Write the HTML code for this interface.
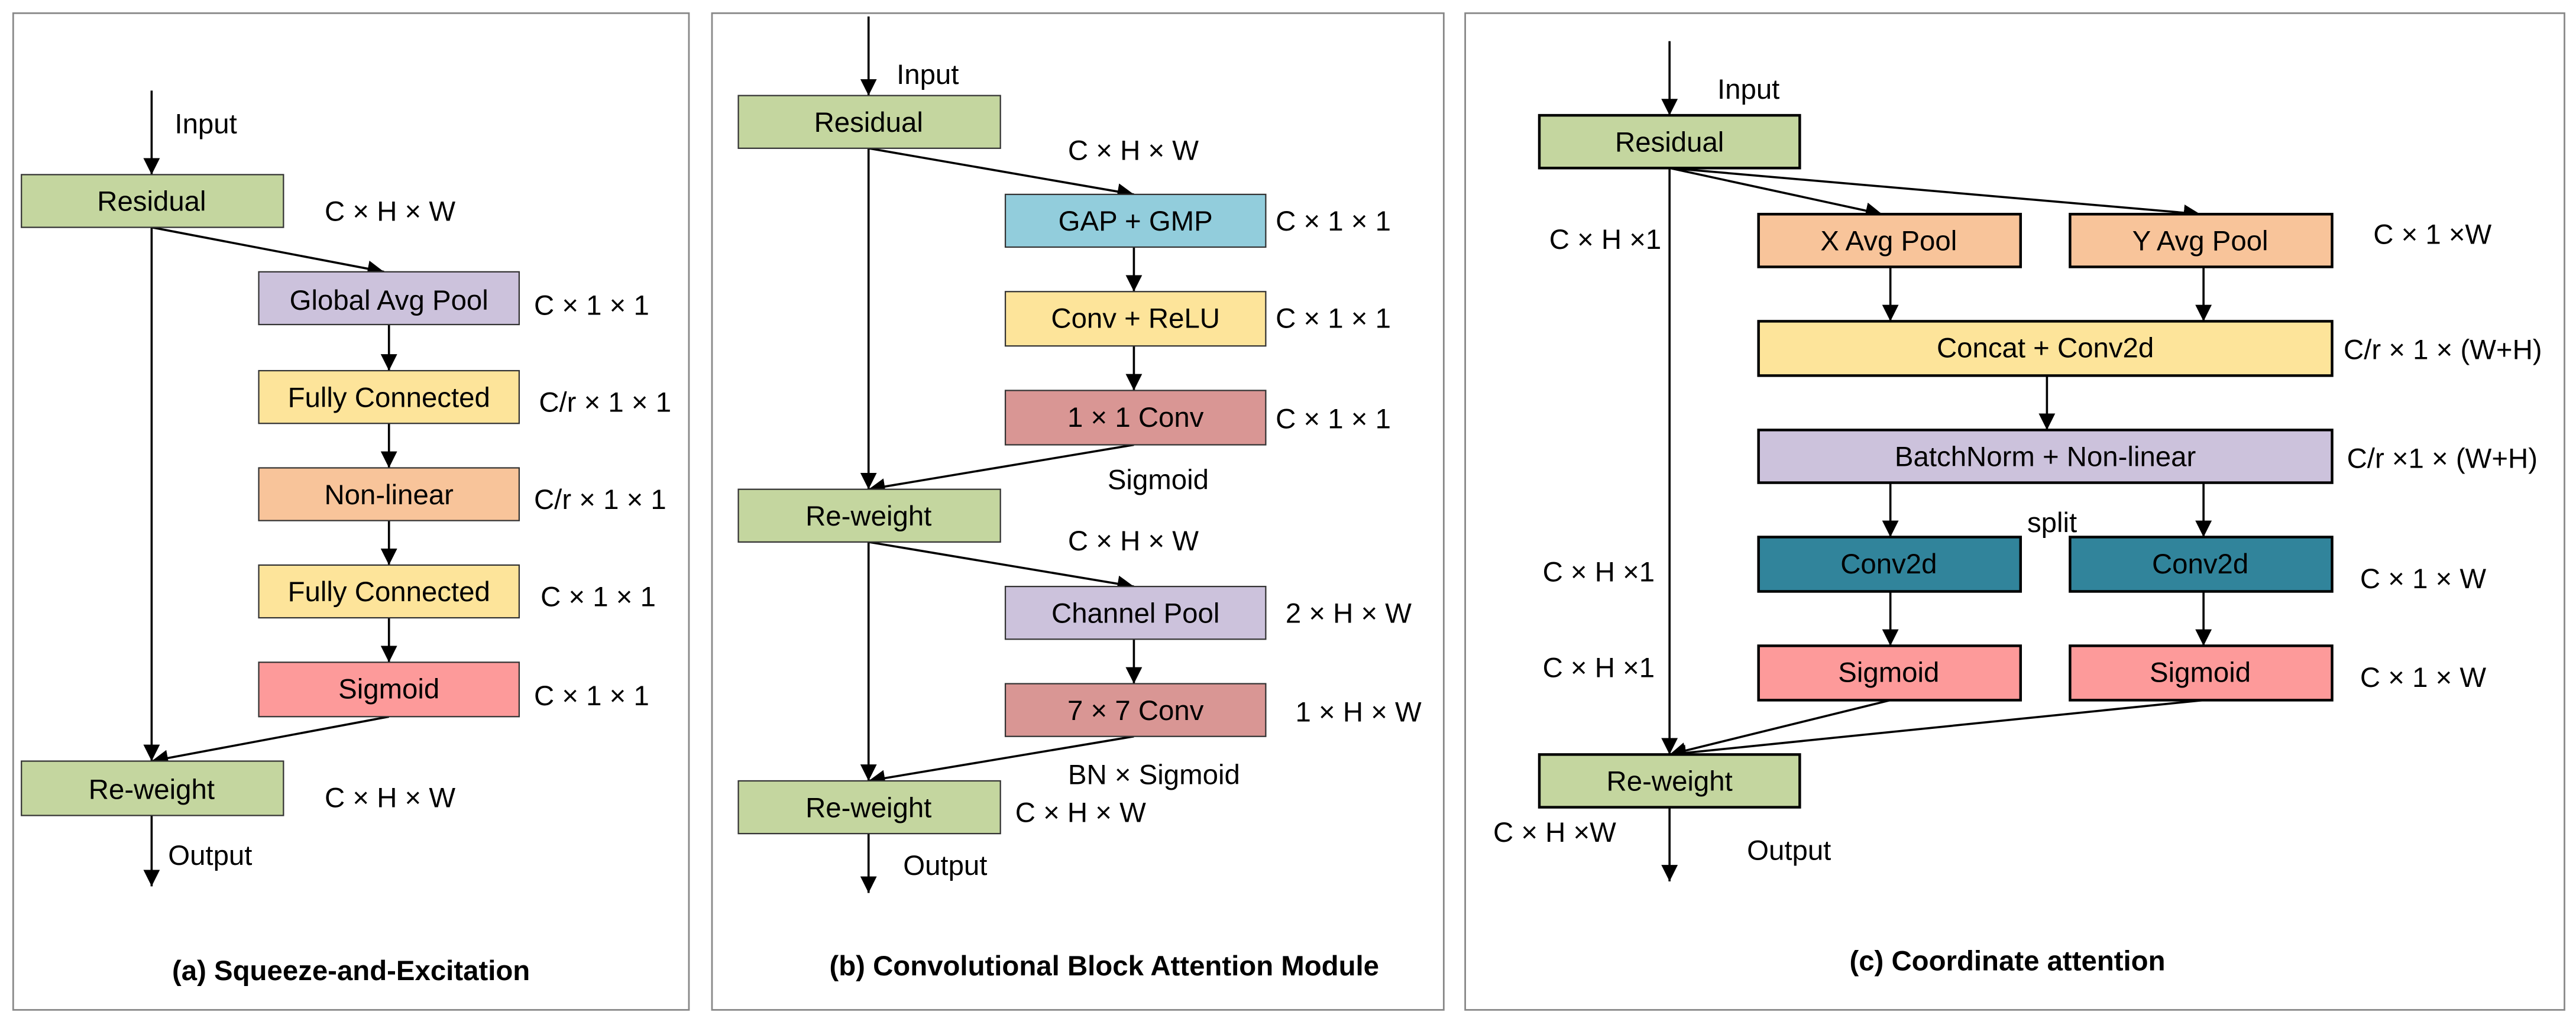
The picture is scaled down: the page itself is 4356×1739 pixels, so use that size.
<!DOCTYPE html>
<html><head><meta charset="utf-8"><style>html,body{margin:0;padding:0;background:#fff}svg{display:block}text{font-family:"Liberation Sans",Arial,sans-serif;font-size:17px;fill:#000}</style></head><body>
<svg width="4356" height="1739" viewBox="0 0 1563 624" preserveAspectRatio="none" xmlns="http://www.w3.org/2000/svg">
<defs><marker id="a" viewBox="0 0 10 10" refX="10" refY="5" markerWidth="10" markerHeight="10" markerUnits="userSpaceOnUse" orient="auto"><path d="M0,0 L10,5 L0,10 z" fill="#000"/></marker></defs>
<g fill="none" stroke="#888" stroke-width="1"><rect x="8" y="8" width="410" height="605"/><rect x="432" y="8" width="444" height="605"/><rect x="889" y="8" width="667" height="605"/></g>
<g stroke="#000" stroke-width="1.3" fill="none" marker-end="url(#a)">
<line x1="92" y1="55" x2="92" y2="106"/><line x1="92" y1="138" x2="233" y2="165"/>
<line x1="236" y1="197" x2="236" y2="225"/><line x1="236" y1="257" x2="236" y2="284"/><line x1="236" y1="316" x2="236" y2="343"/><line x1="236" y1="375" x2="236" y2="402"/>
<line x1="92" y1="138" x2="92" y2="462"/><line x1="236" y1="435" x2="92" y2="462"/><line x1="92" y1="495" x2="92" y2="538"/>
<line x1="527" y1="10" x2="527" y2="58"/><line x1="527" y1="90" x2="688" y2="118"/>
<line x1="688" y1="150" x2="688" y2="177"/><line x1="688" y1="210" x2="688" y2="237"/>
<line x1="688" y1="270" x2="527" y2="297"/><line x1="527" y1="90" x2="527" y2="297"/>
<line x1="527" y1="329" x2="688" y2="356"/><line x1="688" y1="388" x2="688" y2="415"/>
<line x1="688" y1="447" x2="527" y2="474"/><line x1="527" y1="329" x2="527" y2="474"/><line x1="527" y1="506" x2="527" y2="542"/>
<line x1="1013" y1="25" x2="1013" y2="70"/><line x1="1013" y1="102" x2="1142" y2="130"/><line x1="1013" y1="102" x2="1335" y2="130"/>
<line x1="1147" y1="162" x2="1147" y2="195"/><line x1="1337" y1="162" x2="1337" y2="195"/><line x1="1242" y1="228" x2="1242" y2="261"/>
<line x1="1147" y1="293" x2="1147" y2="326"/><line x1="1337" y1="293" x2="1337" y2="326"/>
<line x1="1147" y1="359" x2="1147" y2="392"/><line x1="1337" y1="359" x2="1337" y2="392"/>
<line x1="1013" y1="102" x2="1013" y2="458"/><line x1="1147" y1="425" x2="1013" y2="458"/><line x1="1337" y1="425" x2="1013" y2="458"/>
<line x1="1013" y1="490" x2="1013" y2="535"/>
</g>
<g stroke="#333" stroke-width="0.8">
<rect x="13" y="106" width="159" height="32" fill="#c4d69f"/><rect x="157" y="165" width="158" height="32" fill="#ccc2dc"/>
<rect x="157" y="225" width="158" height="32" fill="#fde49a"/><rect x="157" y="284" width="158" height="32" fill="#f8c49a"/>
<rect x="157" y="343" width="158" height="32" fill="#fde49a"/><rect x="157" y="402" width="158" height="33" fill="#fd9a9a"/>
<rect x="13" y="462" width="159" height="33" fill="#c4d69f"/>
<rect x="448" y="58" width="159" height="32" fill="#c4d69f"/><rect x="610" y="118" width="158" height="32" fill="#92cddc"/>
<rect x="610" y="177" width="158" height="33" fill="#fde49a"/><rect x="610" y="237" width="158" height="33" fill="#d99694"/>
<rect x="448" y="297" width="159" height="32" fill="#c4d69f"/><rect x="610" y="356" width="158" height="32" fill="#ccc2dc"/>
<rect x="610" y="415" width="158" height="32" fill="#d99694"/><rect x="448" y="474" width="159" height="32" fill="#c4d69f"/>
</g>
<g stroke="#000" stroke-width="1.6">
<rect x="934" y="70" width="158" height="32" fill="#c4d69f"/>
<rect x="1067" y="130" width="159" height="32" fill="#f8c49a"/><rect x="1256" y="130" width="159" height="32" fill="#f8c49a"/>
<rect x="1067" y="195" width="348" height="33" fill="#fde49a"/><rect x="1067" y="261" width="348" height="32" fill="#ccc2dc"/>
<rect x="1067" y="326" width="159" height="33" fill="#31849b"/><rect x="1256" y="326" width="159" height="33" fill="#31849b"/>
<rect x="1067" y="392" width="159" height="33" fill="#fd9a9a"/><rect x="1256" y="392" width="159" height="33" fill="#fd9a9a"/>
<rect x="934" y="458" width="158" height="32" fill="#c4d69f"/>
</g>
<g text-anchor="middle">
<text x="92" y="128">Residual</text><text x="236" y="188">Global Avg Pool</text><text x="236" y="247">Fully Connected</text>
<text x="236" y="306">Non-linear</text><text x="236" y="365">Fully Connected</text><text x="236" y="424">Sigmoid</text><text x="92" y="485">Re-weight</text>
<text x="527" y="80">Residual</text><text x="689" y="140">GAP + GMP</text><text x="689" y="199">Conv + ReLU</text><text x="689" y="259">1 × 1 Conv</text>
<text x="527" y="319">Re-weight</text><text x="689" y="378">Channel Pool</text><text x="689" y="437">7 × 7 Conv</text><text x="527" y="496">Re-weight</text>
<text x="1013" y="92">Residual</text><text x="1146" y="152">X Avg Pool</text><text x="1335" y="152">Y Avg Pool</text>
<text x="1241" y="217">Concat + Conv2d</text><text x="1241" y="283">BatchNorm + Non-linear</text>
<text x="1146" y="348">Conv2d</text><text x="1335" y="348">Conv2d</text><text x="1146" y="414">Sigmoid</text><text x="1335" y="414">Sigmoid</text>
<text x="1013" y="480">Re-weight</text>
<g style="font-weight:bold;font-size:16px"><text x="213" y="595">(a) Squeeze-and-Excitation</text><text x="670" y="592">(b) Convolutional Block Attention Module</text><text x="1218" y="589">(c) Coordinate attention</text></g>
</g>
<text x="106" y="81">Input</text><text x="197" y="134">C × H × W</text><text x="324" y="191">C × 1 × 1</text><text x="327" y="250">C/r × 1 × 1</text>
<text x="324" y="309">C/r × 1 × 1</text><text x="328" y="368">C × 1 × 1</text><text x="324" y="428">C × 1 × 1</text><text x="197" y="490">C × H × W</text><text x="102" y="525">Output</text>
<text x="544" y="51">Input</text><text x="648" y="97">C × H × W</text><text x="774" y="140">C × 1 × 1</text><text x="774" y="199">C × 1 × 1</text><text x="774" y="260">C × 1 × 1</text>
<text x="672" y="297">Sigmoid</text><text x="648" y="334">C × H × W</text><text x="780" y="378">2 × H × W</text><text x="786" y="438">1 × H × W</text>
<text x="648" y="476">BN × Sigmoid</text><text x="616" y="499">C × H × W</text><text x="548" y="531">Output</text>
<text x="1042" y="60">Input</text><text x="940" y="151">C × H ×1</text><text x="1440" y="148">C × 1 ×W</text><text x="1422" y="218">C/r × 1 × (W+H)</text>
<text x="1424" y="284">C/r ×1 × (W+H)</text><text x="1230" y="323">split</text><text x="936" y="353">C × H ×1</text><text x="1432" y="357">C × 1 × W</text>
<text x="936" y="411">C × H ×1</text><text x="1432" y="417">C × 1 × W</text><text x="906" y="511">C × H ×W</text><text x="1060" y="522">Output</text>
</svg>
</body></html>
